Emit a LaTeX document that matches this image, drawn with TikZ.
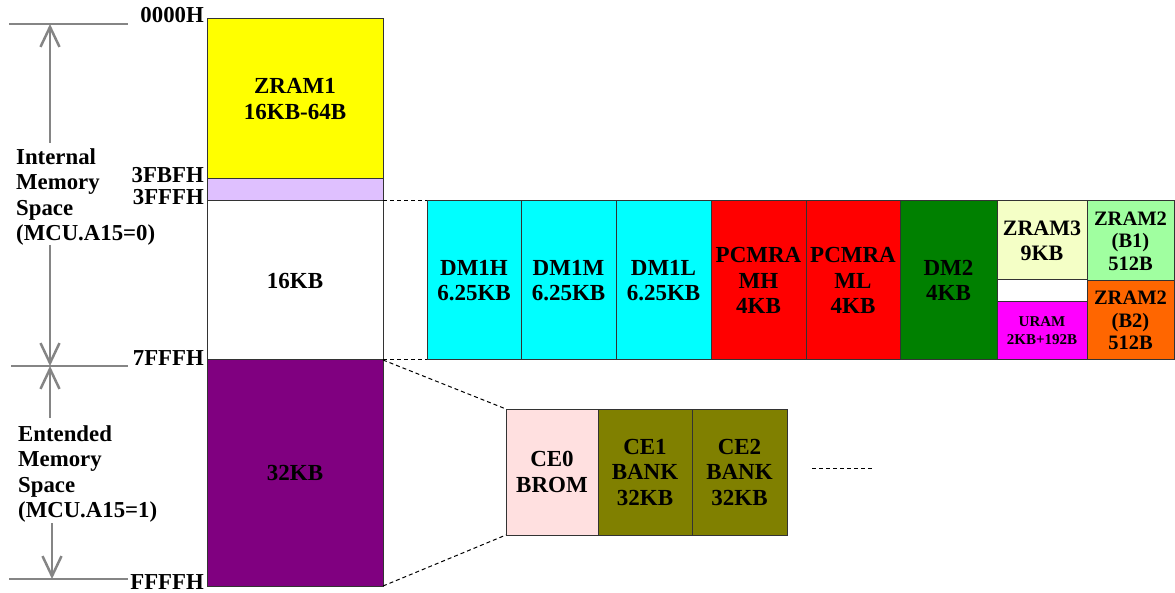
\documentclass[tikz,border=0pt]{standalone}
\usepackage{fontspec}
\setmainfont{Liberation Serif}
\usetikzlibrary{arrows.meta}
\definecolor{zyellow}{HTML}{FFFF00}
\definecolor{zlav}{HTML}{DFC0FF}
\definecolor{zcyan}{HTML}{00FFFF}
\definecolor{zred}{HTML}{FF0000}
\definecolor{zgreen}{HTML}{008000}
\definecolor{zcream}{HTML}{F4FFC6}
\definecolor{zlgreen}{HTML}{A0FFA0}
\definecolor{zmag}{HTML}{FF00FF}
\definecolor{zorange}{HTML}{FF6600}
\definecolor{zpurple}{HTML}{800080}
\definecolor{zpink}{HTML}{FFE0E0}
\definecolor{zolive}{HTML}{808000}
\definecolor{zgray}{HTML}{858585}
\begin{document}
\begin{tikzpicture}[x=1pt,y=-1pt,
  box/.style={draw=black!80, line width=1pt, inner sep=0pt, outer sep=0pt, align=center,
    font=\fontsize{23}{25.5}\selectfont\bfseries},
  smallbox/.style={box, font=\fontsize{20.5}{22.5}\selectfont\bfseries},
  tinybox/.style={box, font=\fontsize{15}{18}\selectfont\bfseries},
  addr/.style={anchor=base east, inner sep=0pt, font=\fontsize{22.8}{25}\selectfont\bfseries},
  sidelabel/.style={anchor=west, inner sep=0pt, align=left, font=\fontsize{22.8}{25.3}\selectfont\bfseries},
  dimline/.style={draw=zgray, line width=2.5pt},
  dimarrow/.style={dimline, -{Straight Barb[length=20pt,width=19pt]}},
  dotline/.style={draw=black, line width=1pt, dash pattern=on 4pt off 3pt}]
\useasboundingbox (0,0) rectangle (1175,593);

% main column
\node[box, fill=zyellow, minimum width=176pt, minimum height=160pt] (zram1) at (295,99) {ZRAM1\\16KB-64B};
\node[box, fill=zlav, minimum width=176pt, minimum height=22pt] (lav) at (295,190) {};
\node[box, fill=white, minimum width=176pt, minimum height=159pt] (white) at (295,280.5) {16KB};
\node[box, fill=zpurple, minimum width=176pt, minimum height=226pt] (purple) at (295,473) {32KB};

% address labels
\node[addr] (a0) at (204,23) {0000H};
\node[addr] (a1) at (204,183) {3FBFH};
\node[addr] (a2) at (204,205) {3FFFH};
\node[addr] (a3) at (204,366) {7FFFH};
\node[addr] (a4) at (204,589) {FFFFH};

% side labels
\node[sidelabel] (internal) at (16,197) {Internal\\Memory\\Space\\(MCU.A15=0)};
\node[sidelabel] (extended) at (18,474) {Entended\\Memory\\Space\\(MCU.A15=1)};

% dimension lines
\coordinate (h0a) at (9,24);  \coordinate (h0b) at (128,24);
\coordinate (h1a) at (11,366); \coordinate (h1b) at (128,366);
\coordinate (h2a) at (9,579); \coordinate (h2b) at (128,579);
\draw[dimline] (h0a) -- (h0b);
\draw[dimline] (h1a) -- (h1b);
\draw[dimline] (h2a) -- (h2b);
\coordinate (v1) at (50,143); \coordinate (v1t) at (50,24);
\coordinate (v2) at (50,245); \coordinate (v2t) at (50,366);
\coordinate (v3) at (50,418); \coordinate (v3t) at (50,366);
\coordinate (v4) at (52,523); \coordinate (v4t) at (52,579);
\draw[dimarrow] (v1) -- (v1t);
\draw[dimarrow] (v2) -- (v2t);
\draw[dimarrow] (v3) -- (v3t);
\draw[dimarrow] (v4) -- (v4t);

% internal row
\node[box, fill=zcyan, minimum width=94pt, minimum height=159pt] (dm1h) at (474,280.5) {DM1H\\6.25KB};
\node[box, fill=zcyan, minimum width=95pt, minimum height=159pt] (dm1m) at (568.5,280.5) {DM1M\\6.25KB};
\node[box, fill=zcyan, minimum width=95pt, minimum height=159pt] (dm1l) at (663.5,280.5) {DM1L\\6.25KB};
\node[box, fill=zred, minimum width=95pt, minimum height=159pt] (pcmh) at (758.5,280.5) {PCMRA\\MH\\4KB};
\node[box, fill=zred, minimum width=94pt, minimum height=159pt] (pcml) at (853,280.5) {PCMRA\\ML\\4KB};
\node[box, fill=zgreen, minimum width=97pt, minimum height=159pt] (dm2) at (948.5,280.5) {DM2\\4KB};
\node[box, fill=zcream, minimum width=90pt, minimum height=79pt, font=\fontsize{22}{25}\selectfont\bfseries] (zram3) at (1042,240.5) {ZRAM3\\9KB};
\node[box, fill=white, minimum width=90pt, minimum height=22pt] (gap) at (1042,291) {};
\node[tinybox, fill=zmag, minimum width=90pt, minimum height=58pt] (uram) at (1042,331) {URAM\\2KB+192B};
\node[smallbox, fill=zlgreen, minimum width=87pt, minimum height=80pt] (b1) at (1130.5,241) {ZRAM2\\(B1)\\512B};
\node[smallbox, fill=zorange, minimum width=87pt, minimum height=79pt] (b2) at (1130.5,320.5) {ZRAM2\\(B2)\\512B};

% extended row
\node[box, fill=zpink, minimum width=92pt, minimum height=126pt] (ce0) at (552,472) {CE0\\BROM};
\node[box, fill=zolive, minimum width=94pt, minimum height=126pt] (ce1) at (645,472) {CE1\\BANK\\32KB};
\node[box, fill=zolive, minimum width=95pt, minimum height=126pt] (ce2) at (739.5,472) {CE2\\BANK\\32KB};

% dotted connectors
\draw[dotline] (white.north east) -- (dm1h.north west);
\draw[dotline] (white.south east) -- (dm1h.south west);
\draw[dotline] (purple.north east) -- (ce0.north west);
\draw[dotline] (purple.south east) -- (ce0.south west);
\coordinate (d1) at (812,468); \coordinate (d2) at (873,468);
\draw[dotline] (d1) -- (d2);
\end{tikzpicture}
\end{document}
